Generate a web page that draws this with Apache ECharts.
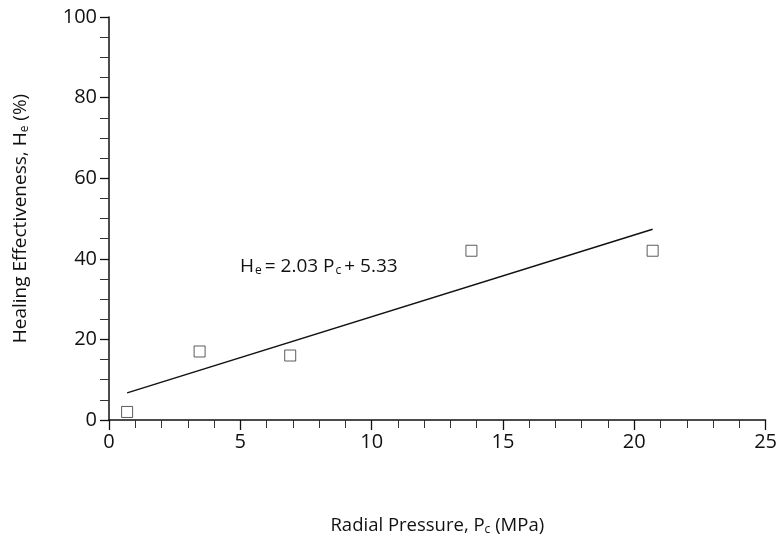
<!DOCTYPE html>
<html>
<head>
<meta charset="utf-8">
<script src="https://cdn.jsdelivr.net/npm/echarts@6/dist/echarts.min.js"></script>
<style>html,body{margin:0;padding:0;background:#fff}#c{width:780px;height:544px}</style>
</head>
<body>
<div id="c"></div>
<script>
const pressure = [0.69, 3.45, 6.9, 13.8, 20.7];
const healing = [2, 17, 16, 42, 42];
const fitSlope = 2.03;
const fitIntercept = 5.33;
const fitRange = [0.69, 20.7];
const xTicks = [0, 5, 10, 15, 20, 25];
const yTicks = [0, 20, 40, 60, 80, 100];

const fitLine = fitRange.map(x => [x, fitSlope * x + fitIntercept]);
const font = '"Open Sans", "Noto Sans", sans-serif';

const chart = echarts.init(document.getElementById('c'), null, {renderer: 'canvas'});
chart.setOption({
  animation: false,
  backgroundColor: '#fff',
  grid: {left: 109, right: 14, top: 17, bottom: 124, containLabel: false},
  xAxis: {
    type: 'value', min: xTicks[0], max: xTicks[xTicks.length - 1], interval: 5,
    axisLine: {lineStyle: {color: '#111', width: 1.5}},
    axisTick: {show: true, length: 10, lineStyle: {color: '#111', width: 1.3}},
    minorTick: {show: true, splitNumber: 5, length: 8, lineStyle: {color: '#333', width: 1}},
    splitLine: {show: false},
    axisLabel: {color: '#111', fontSize: 20, fontFamily: font, margin: 12},
    name: '{a|Radial Pressure, P}{s|c}{a| (MPa)}',
    nameLocation: 'middle', nameGap: 96,
    nameTextStyle: {rich: {
      a: {fontSize: 18.5, fontFamily: font, color: '#111'},
      s: {fontSize: 12, fontFamily: font, color: '#111', verticalAlign: 'bottom', padding: [8, 0, 0, 0]}
    }}
  },
  yAxis: {
    type: 'value', min: yTicks[0], max: yTicks[yTicks.length - 1], interval: 20,
    axisLine: {show: true, lineStyle: {color: '#111', width: 1.5}},
    axisTick: {show: true, length: 9, lineStyle: {color: '#111', width: 1.3}},
    minorTick: {show: true, splitNumber: 4, length: 9, lineStyle: {color: '#333', width: 1}},
    splitLine: {show: false},
    axisLabel: {color: '#111', fontSize: 20, fontFamily: font, margin: 12},
    name: '{a|Healing Effectiveness, H}{s|e}{a| (%)}',
    nameLocation: 'middle', nameGap: 78,
    nameTextStyle: {rich: {
      a: {fontSize: 19, fontFamily: font, color: '#111'},
      s: {fontSize: 12, fontFamily: font, color: '#111', verticalAlign: 'bottom', padding: [8, 0, 0, 0]}
    }}
  },
  series: [
    {
      type: 'line', data: fitLine, symbol: 'none',
      lineStyle: {color: '#111', width: 1.5}, z: 2
    },
    {
      type: 'scatter', data: pressure.map((x, i) => [x, healing[i]]),
      symbol: 'rect', symbolSize: 11,
      itemStyle: {color: '#fff', borderColor: '#333', borderWidth: 1}, z: 3
    }
  ],
  graphic: [{
    type: 'text', left: 240, top: 257,
    style: {
      text: '{a|H}{s|e}{a|= 2.03 P}{s|c}{a|+ 5.33}',
      rich: {
        a: {fontSize: 19, fontFamily: font, fill: '#111'},
        s: {fontSize: 12, fontFamily: font, fill: '#111', verticalAlign: 'bottom', padding: [8, 3, 0, 1]}
      }
    }
  }]
});
</script>
</body>
</html>
